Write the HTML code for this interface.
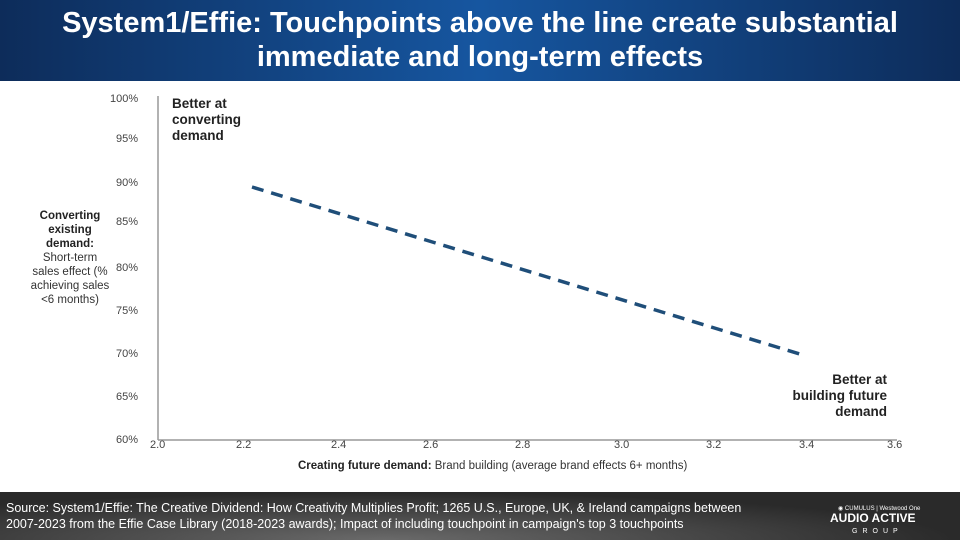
<!DOCTYPE html>
<html><head><style>
body{margin:0;width:960px;height:540px;overflow:hidden;background:#fff;font-family:"Liberation Sans",sans-serif;position:relative}
.hdr{position:absolute;left:0;top:0;width:960px;height:81px;background:linear-gradient(90deg,#0d2c5a 0%,#1656a0 50%,#0d2c5a 100%);color:#fff;text-align:center;font-weight:bold;font-size:29px;line-height:34px;padding-top:6px;box-sizing:border-box}
.ftr{position:absolute;left:0;top:492px;width:960px;height:48px;background:radial-gradient(ellipse at 40% 100%,#6a6a6a,#2a2a2a 70%);color:#fff;font-size:12.5px;line-height:16px}
.t{position:absolute;font-size:11px;color:#444}
.b{position:absolute;font-weight:bold;color:#222;font-size:13.5px;line-height:16px}
</style></head><body>
<div class="hdr">System1/Effie: Touchpoints above the line create substantial<br>immediate and long-term effects</div>
<svg width="960" height="540" style="position:absolute;left:0;top:0">
<line x1="158" y1="96" x2="158" y2="440" stroke="#999" stroke-width="1.5"/>
<line x1="158" y1="440" x2="897" y2="440" stroke="#999" stroke-width="1.5"/>
<line x1="252" y1="187" x2="803" y2="355" stroke="#1f4e79" stroke-width="3.5" stroke-dasharray="12,8"/>
</svg>
<div class="t" style="left:110px;top:93px">100%</div>
<div class="t" style="left:116px;top:133px">95%</div>
<div class="t" style="left:116px;top:177px">90%</div>
<div class="t" style="left:116px;top:216px">85%</div>
<div class="t" style="left:116px;top:262px">80%</div>
<div class="t" style="left:116px;top:305px">75%</div>
<div class="t" style="left:116px;top:348px">70%</div>
<div class="t" style="left:116px;top:391px">65%</div>
<div class="t" style="left:116px;top:434px">60%</div>
<div class="t" style="left:150px;top:439px">2.0</div>
<div class="t" style="left:236px;top:439px">2.2</div>
<div class="t" style="left:331px;top:439px">2.4</div>
<div class="t" style="left:423px;top:439px">2.6</div>
<div class="t" style="left:515px;top:439px">2.8</div>
<div class="t" style="left:614px;top:439px">3.0</div>
<div class="t" style="left:706px;top:439px">3.2</div>
<div class="t" style="left:799px;top:439px">3.4</div>
<div class="t" style="left:887px;top:439px">3.6</div>
<div class="b" style="left:172px;top:96px">Better at<br>converting<br>demand</div>
<div class="b" style="left:760px;top:372px;text-align:right;width:127px">Better at<br>building future<br>demand</div>
<div style="position:absolute;left:28px;top:209px;width:84px;text-align:center;font-size:11.5px;line-height:14px;color:#333"><b style="color:#222">Converting existing demand:</b><br>Short-term sales effect (% achieving sales &lt;6 months)</div>
<div style="position:absolute;left:298px;top:460px;font-size:11.5px;color:#333"><b style="color:#222">Creating future demand:</b> Brand building (average brand effects 6+ months)</div>
<div class="ftr"><div style="position:absolute;left:6px;top:8px">Source: System1/Effie: The Creative Dividend: How Creativity Multiplies Profit; 1265 U.S., Europe, UK, &amp; Ireland campaigns between<br>2007-2023 from the Effie Case Library (2018-2023 awards); Impact of including touchpoint in campaign's top 3 touchpoints</div>
<div style="position:absolute;left:838px;top:9px;font-size:6px">◉ CUMULUS | Westwood One</div>
<div style="position:absolute;left:830px;top:18px;font-weight:bold;font-size:12px">AUDIO ACTIVE</div>
<div style="position:absolute;left:852px;top:32px;font-size:7px;letter-spacing:5px">GROUP</div></div>
</body></html>
